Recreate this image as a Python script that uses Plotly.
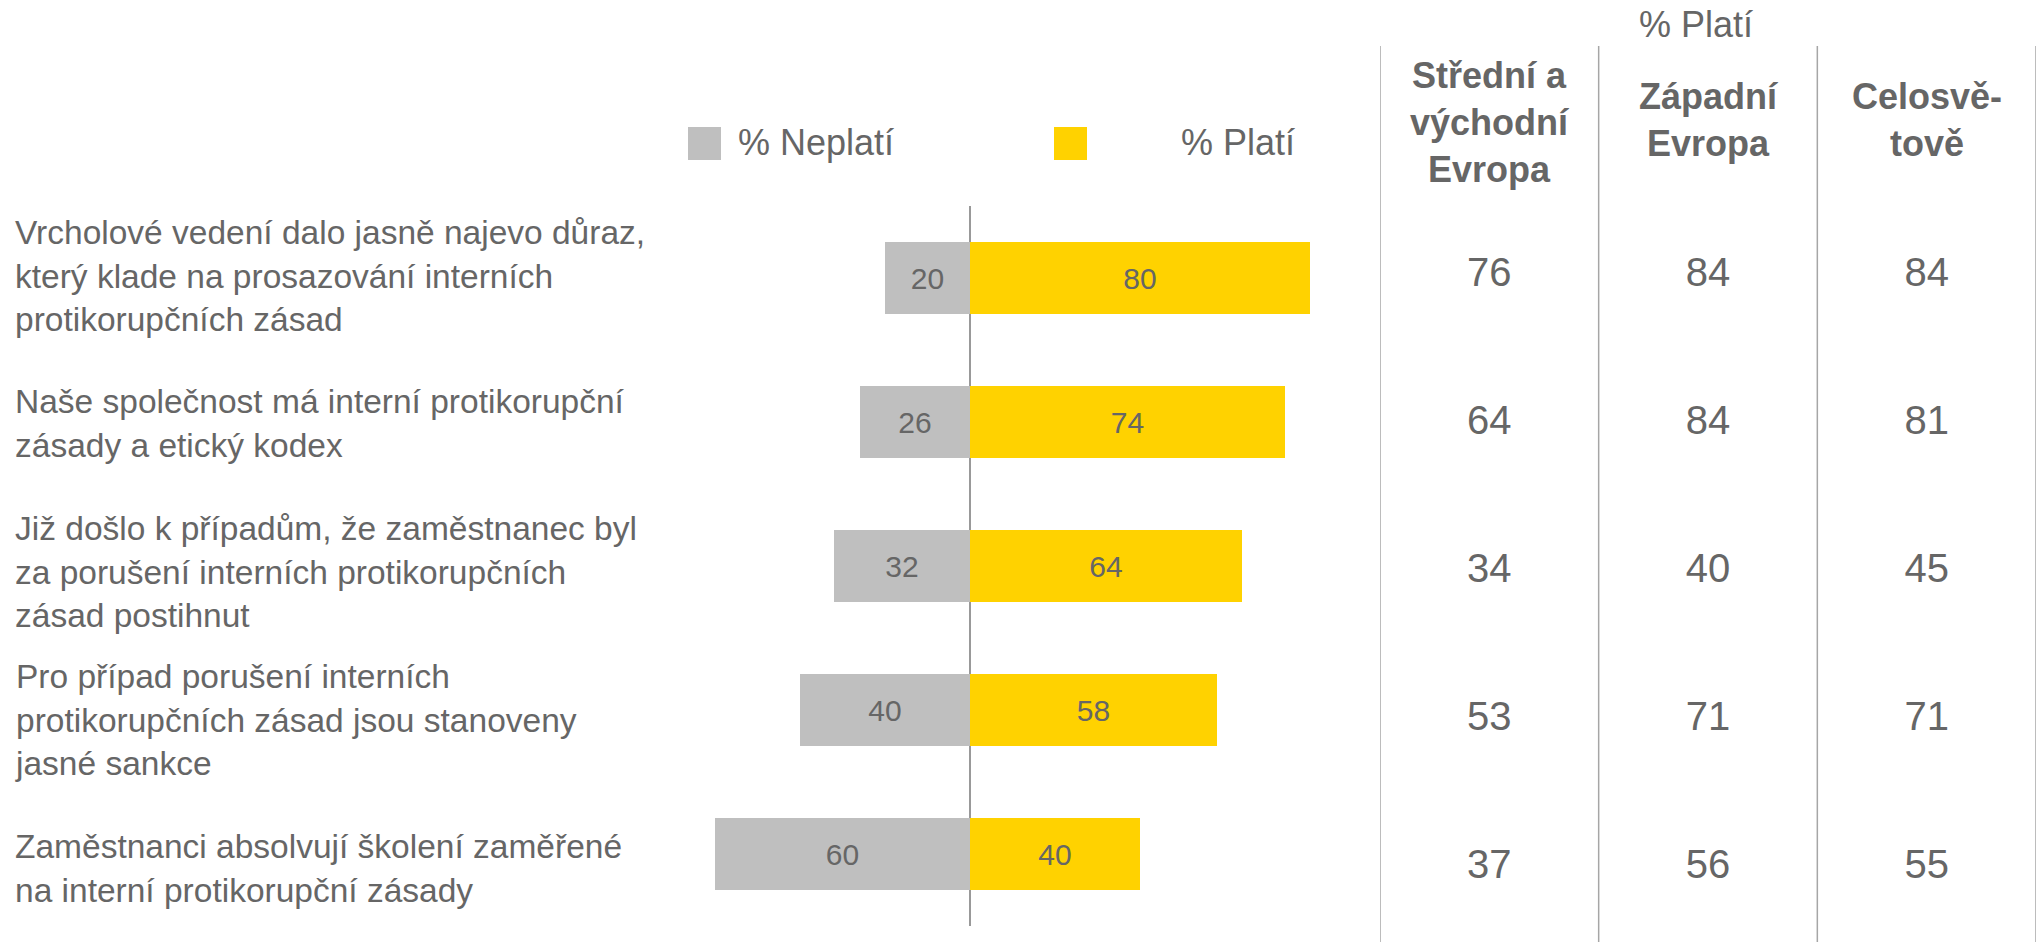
import plotly.graph_objects as go

FONT = "Liberation Sans, Arial, sans-serif"
TEXT_COLOR = "#666666"
GREY = "#BFBFBF"
YELLOW = "#FFD200"
LINE_COLOR = "#A6A6A6"

# row labels (top to bottom)
STATEMENTS = [
    "Vrcholové vedení dalo jasně najevo důraz,<br>který klade na prosazování interních<br>protikorupčních zásad",
    "Naše společnost má interní protikorupční<br>zásady a etický kodex",
    "Již došlo k případům, že zaměstnanec byl<br>za porušení interních protikorupčních<br>zásad postihnut",
    "Pro případ porušení interních<br>protikorupčních zásad jsou stanoveny<br>jasné sankce",
    "Zaměstnanci absolvují školení zaměřené<br>na interní protikorupční zásady",
]
NEPLATI = [20, 26, 32, 40, 60]
PLATI = [80, 74, 64, 58, 40]

# "% Platí" by region
REGIONS = ["Střední a<br>východní<br>Evropa", "Západní<br>Evropa", "Celosvě-<br>tově"]
CEE = [76, 64, 34, 53, 37]
WEST = [84, 84, 40, 71, 56]
GLOBAL = [84, 81, 45, 71, 55]

W, H = 2038, 942


def px_x(p):
    return p / W


def px_y(p):
    return 1 - p / H


fig = go.Figure()

fig.add_trace(go.Bar(
    y=STATEMENTS, x=[-v for v in NEPLATI], orientation="h",
    marker=dict(color=GREY, line=dict(width=0)), width=0.5,
    text=NEPLATI, textposition="inside", insidetextanchor="middle",
    textfont=dict(size=30, color=TEXT_COLOR, family=FONT),
    name="% Neplatí", showlegend=False,
))
fig.add_trace(go.Bar(
    y=STATEMENTS, x=PLATI, orientation="h",
    marker=dict(color=YELLOW, line=dict(width=0)), width=0.5,
    text=PLATI, textposition="inside", insidetextanchor="middle",
    textfont=dict(size=30, color=TEXT_COLOR, family=FONT),
    name="% Platí", showlegend=False,
))

# region table as text marks
for col, vals in zip(REGIONS, [CEE, WEST, GLOBAL]):
    fig.add_trace(go.Scatter(
        x=[col] * len(vals), y=STATEMENTS, mode="text",
        text=[str(v) for v in vals],
        textfont=dict(size=40, color=TEXT_COLOR, family=FONT),
        xaxis="x2", yaxis="y2", showlegend=False, hoverinfo="skip",
    ))

annotations = []
for s in STATEMENTS:
    annotations.append(dict(
        x=px_x(13), xref="paper", y=s, yref="y3",
        text=s, showarrow=False, xanchor="left", yanchor="middle", align="left",
        font=dict(size=33.5, color=TEXT_COLOR, family=FONT),
    ))

for col in REGIONS:
    cy = 123 if col.count("<br>") == 2 else 120
    annotations.append(dict(
        x=col, xref="x2", y=px_y(cy), yref="paper",
        text="<b>" + col + "</b>", showarrow=False, xanchor="center", yanchor="middle",
        align="center", font=dict(size=36, color=TEXT_COLOR, family=FONT),
    ))

annotations.append(dict(
    x=px_x(1696), xref="paper", y=px_y(25), yref="paper", text="% Platí",
    showarrow=False, xanchor="center", yanchor="middle",
    font=dict(size=36, color=TEXT_COLOR, family=FONT),
))

# manual legend
shapes = []
for x0, col, label, tx in [(688, GREY, "% Neplatí", 736), (1054, YELLOW, "% Platí", 1179)]:
    shapes.append(dict(type="rect", xref="paper", yref="paper",
                       x0=px_x(x0), x1=px_x(x0 + 33), y0=px_y(160), y1=px_y(127),
                       fillcolor=col, line=dict(width=0)))
    annotations.append(dict(
        x=px_x(tx), xref="paper", y=px_y(143), yref="paper", text=label,
        showarrow=False, xanchor="left", yanchor="middle",
        font=dict(size=36, color=TEXT_COLOR, family=FONT),
    ))

# table column dividers
for xv in [-0.5, 0.5, 1.5, 2.5]:
    shapes.append(dict(type="line", xref="x2", yref="paper",
                       x0=xv, x1=xv, y0=0, y1=px_y(46),
                       line=dict(color=LINE_COLOR, width=1.5)))

hidden = dict(showgrid=False, showticklabels=False, ticks="", zeroline=False)

fig.update_layout(
    width=W, height=H,
    margin=dict(l=0, r=0, t=0, b=0),
    plot_bgcolor="white", paper_bgcolor="white",
    barmode="overlay", bargap=0,
    font=dict(family=FONT, color=TEXT_COLOR),
    xaxis=dict(range=[-100, 100], domain=[px_x(545), px_x(1395)],
               showgrid=False, showticklabels=False, ticks="",
               zeroline=True, zerolinecolor="#999999", zerolinewidth=1.5),
    yaxis=dict(range=[4.5, -0.5], domain=[px_y(926), px_y(206)], **hidden),
    xaxis2=dict(range=[-0.5, 2.5], domain=[px_x(1380), px_x(2036)], anchor="y2",
                type="category", categoryarray=REGIONS, **hidden),
    yaxis2=dict(range=[4.5, -0.5], domain=[px_y(942), px_y(202)], anchor="x2",
                type="category", categoryarray=STATEMENTS, **hidden),
    yaxis3=dict(range=[4.5, -0.5], domain=[px_y(940), px_y(200)], anchor="x2",
                overlaying="y2", type="category", categoryarray=STATEMENTS, **hidden),
    annotations=annotations,
    shapes=shapes,
)

fig.write_html("out.html", config={"displayModeBar": False},
               post_script="document.body.style.margin='0';")
